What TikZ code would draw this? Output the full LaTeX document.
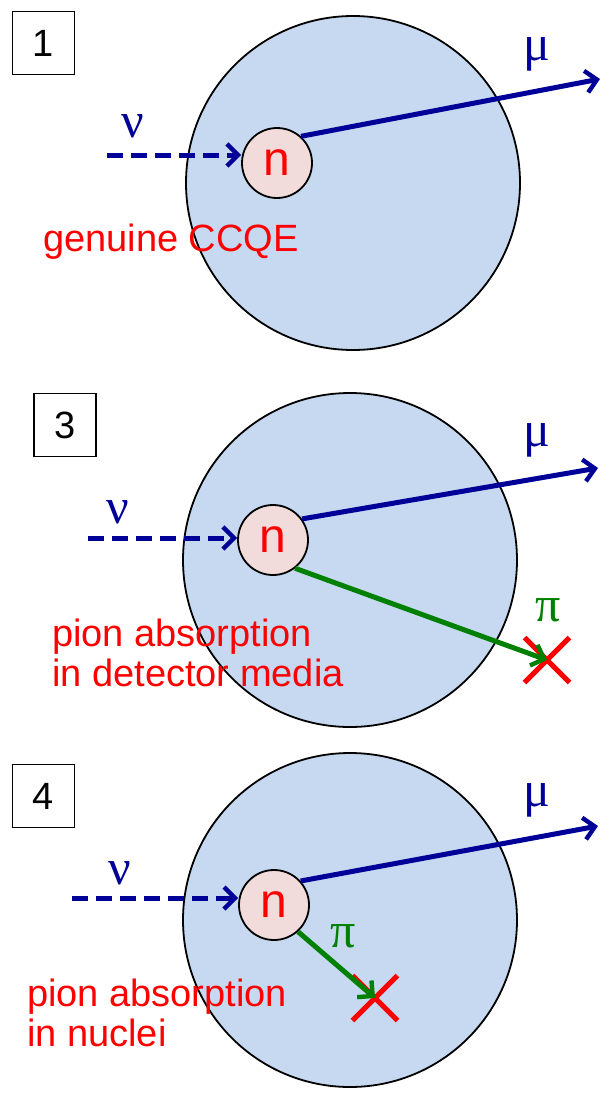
\documentclass[tikz,border=0pt]{standalone}
\usepackage{fontspec}
\setmainfont{Liberation Sans}
\newfontfamily\greekfont{Liberation Serif}
\usetikzlibrary{arrows.meta,shapes.misc}
\definecolor{nucleus}{HTML}{C6D9F1}
\definecolor{neutron}{HTML}{F2DCDB}
\definecolor{darkblue}{HTML}{000099}
\definecolor{pigreen}{HTML}{008000}
\begin{document}
\begin{tikzpicture}[x=1pt,y=-1pt,
  numbox/.style={draw,line width=1.8pt,minimum width=62,minimum height=63,inner sep=0,font=\fontsize{38}{40}\selectfont},
  bigcirc/.style={circle,draw,line width=1.8pt,fill=nucleus,minimum size=334,inner sep=0},
  ncirc/.style={circle,draw,line width=1.8pt,fill=neutron,minimum size=70,inner sep=0,text=red,font=\fontsize{48}{50}\selectfont},
  tip/.style={-{Straight Barb[length=11pt,width=22pt,line width=4.4pt]}},
  nuarrow/.style={draw=darkblue,line width=5pt,dash pattern=on 16pt off 8pt,tip},
  muarrow/.style={draw=darkblue,line width=5pt,tip},
  piarrow/.style={draw=pigreen,line width=5pt,tip},
  greek/.style={font=\greekfont\fontsize{50}{52}\selectfont,inner sep=0},
  redtext/.style={text=red,font=\fontsize{38}{40}\selectfont,align=left,inner sep=0,anchor=west},
  xmark/.style={cross out,draw=red,line width=5pt,minimum size=40,inner sep=0}
]
\useasboundingbox (0,0) rectangle (605,1095);
% ---------- Panel 1 ----------
\node[numbox] (box1) at (43.5,43) {1};
\node[bigcirc] (big1) at (353,183) {};
\node[ncirc] (n1) at (277,163) {n};
\coordinate (nu1s) at (107,155);
\coordinate (mu1e) at (600,79);
\draw[nuarrow] (nu1s) -- (n1.west |- nu1s);
\draw[muarrow] (n1.48) -- (mu1e);
\node[greek,text=darkblue] (nu1) at (133,126) {ν};
\node[greek,text=darkblue] (mu1) at (537,54) {μ};
\node[redtext] (t1) at (43,242) {genuine CCQE};
% ---------- Panel 3 ----------
\node[numbox] (box3) at (65,425) {3};
\node[bigcirc] (big3) at (350,560) {};
\node[ncirc] (n3) at (273,540) {n};
\coordinate (nu3s) at (88,538);
\coordinate (mu3e) at (598,468);
\draw[nuarrow] (nu3s) -- (n3.west |- nu3s);
\draw[muarrow] (n3.36) -- (mu3e);
\node[xmark] (x3) at (547,660) {};
\draw[piarrow] (n3.-52) -- (x3.center);
\node[greek,text=darkblue] (nu3) at (118,512) {ν};
\node[greek,text=darkblue] (mu3) at (537,440) {μ};
\node[greek,text=pigreen] (pi3) at (548,610) {π};
\node[redtext] (t3) at (52,653) {pion absorption\\in detector media};
% ---------- Panel 4 ----------
\node[numbox] (box4) at (43.5,796) {4};
\node[bigcirc] (big4) at (350,920) {};
\node[ncirc] (n4) at (274,905) {n};
\coordinate (nu4s) at (72,898);
\coordinate (mu4e) at (598,826);
\draw[nuarrow] (nu4s) -- (n4.west |- nu4s);
\draw[muarrow] (n4.42) -- (mu4e);
\node[xmark] (x4) at (375,998) {};
\draw[piarrow] (n4.-48) -- (x4.center);
\node[greek,text=darkblue] (nu4) at (120,873) {ν};
\node[greek,text=darkblue] (mu4) at (537,800) {μ};
\node[greek,text=pigreen] (pi4) at (343,936) {π};
\node[redtext] (t4) at (27,1013) {pion absorption\\in nuclei};
\end{tikzpicture}
\end{document}
